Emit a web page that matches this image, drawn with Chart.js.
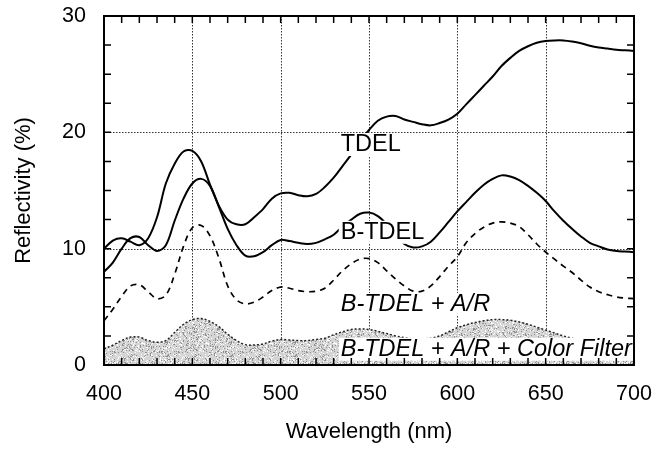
<!DOCTYPE html>
<html>
<head>
<meta charset="utf-8">
<script src="https://cdn.jsdelivr.net/npm/chart.js@4"></script>
<style>
  body { margin: 0; background: #fff; }
  #wrap { width: 657px; height: 454px; }
</style>
</head>
<body>
<div id="wrap"><canvas id="reflChart"></canvas></div>
<script>
// Wavelengths (nm) and reflectivity (%)
const wavelengths = [400, 405, 410, 415, 420, 425, 430, 435, 440, 445, 450, 455, 460, 465, 470, 475, 480, 485, 490, 495,
  500, 505, 510, 515, 520, 525, 530, 535, 540, 545, 550, 555, 560, 565, 570, 575, 580, 585, 590, 595,
  600, 605, 610, 615, 620, 625, 630, 635, 640, 645, 650, 655, 660, 665, 670, 675, 680, 685, 690, 695, 700];

const tdel = [10.0, 10.7, 10.9, 10.6, 10.3, 10.9, 12.7, 15.6, 17.3, 18.35, 18.4, 17.5, 15.5, 13.7, 12.5, 12.1, 12.1, 12.7, 13.4, 14.3,
  14.75, 14.8, 14.6, 14.5, 14.7, 15.3, 16.1, 17.1, 18.1, 19.3, 20.2, 21.0, 21.35, 21.4, 21.1, 20.9, 20.7, 20.6, 20.8, 21.1,
  21.6, 22.4, 23.2, 24.0, 24.8, 25.7, 26.4, 27.0, 27.4, 27.7, 27.85, 27.9, 27.9, 27.8, 27.65, 27.45, 27.3, 27.2, 27.1, 27.05, 27.0];

const bTdel = [8.0, 8.8, 10.0, 10.9, 11.0, 10.3, 9.8, 10.3, 12.4, 14.3, 15.6, 16.0, 15.4, 13.6, 11.7, 10.3, 9.4, 9.35, 9.7, 10.3,
  10.75, 10.65, 10.5, 10.4, 10.5, 10.8, 11.2, 11.9, 12.5, 13.0, 13.1, 12.8, 12.1, 11.2, 10.4, 10.1, 10.2, 10.6, 11.4, 12.3,
  13.2, 14.0, 14.8, 15.5, 16.0, 16.3, 16.2, 15.9, 15.4, 14.8, 14.1, 13.2, 12.4, 11.7, 11.05, 10.5, 10.2, 9.93, 9.8, 9.75, 9.7];

const bTdelAR = [3.8, 4.8, 5.9, 6.8, 6.9, 6.3, 5.7, 6.0, 7.8, 10.2, 11.8, 12.0, 11.1, 9.2, 6.8, 5.6, 5.25, 5.4, 5.85, 6.4,
  6.7, 6.6, 6.4, 6.3, 6.35, 6.6, 7.3, 8.1, 8.7, 9.1, 9.15, 8.8, 8.1, 7.4, 6.8, 6.35, 6.35, 6.8, 7.6, 8.5,
  9.3, 10.5, 11.3, 11.85, 12.2, 12.3, 12.2, 11.9, 11.2, 10.4, 9.7, 9.1, 8.5, 7.95, 7.3, 6.7, 6.3, 6.05, 5.85, 5.75, 5.7];

const bTdelARCF = [1.4, 1.7, 2.1, 2.4, 2.4, 2.1, 1.95, 2.1, 2.8, 3.5, 3.9, 4.0, 3.75, 3.3, 2.65, 2.1, 1.75, 1.72, 1.8, 2.05,
  2.2, 2.15, 2.1, 2.1, 2.2, 2.3, 2.6, 2.85, 3.05, 3.1, 3.05, 2.9, 2.7, 2.5, 2.35, 2.25, 2.25, 2.3, 2.5, 2.85,
  3.2, 3.45, 3.65, 3.8, 3.9, 3.9, 3.85, 3.7, 3.5, 3.25, 3.0, 2.75, 2.5, 2.3, 2.1, 2.0, 1.9, 1.85, 1.8, 1.75, 1.7];

const curveLabels = ['TDEL', 'B-TDEL', 'B-TDEL + A/R', 'B-TDEL + A/R + Color Filter'];

const FONT = "'Liberation Sans', Arial, Helvetica, sans-serif";

const toPoints = (ys) => wavelengths.map((x, i) => ({ x: x, y: ys[i] }));

// stippled grey fill like the scanned figure
function makeStipple() {
    const c = document.createElement('canvas');
    c.width = 64; c.height = 64;
    const g = c.getContext('2d');
    g.fillStyle = '#d4d4d4';
    g.fillRect(0, 0, 64, 64);
    let seed = 7;
    const rnd = () => { seed = (seed * 16807) % 2147483647; return seed / 2147483647; };
    for (let i = 0; i < 1400; i++) {
        g.fillStyle = rnd() < 0.5 ? '#909090' : '#ffffff';
        g.fillRect(Math.floor(rnd() * 64), Math.floor(rnd() * 64), 1, 1);
    }
    return g.createPattern(c, 'repeat');
}

// frame, dotted grid and inward tick marks
const framePlugin = {
    id: 'frame',
    beforeDatasetsDraw(chart) {
        const { ctx, chartArea: a, scales: { x, y } } = chart;
        ctx.save();
        ctx.strokeStyle = '#333';
        ctx.lineWidth = 1;
        ctx.setLineDash([1.5, 1.5]);
        ctx.beginPath();
        [450, 500, 550, 600, 650].forEach(v => {
            const px = Math.round(x.getPixelForValue(v)) + 0.5;
            ctx.moveTo(px, a.top); ctx.lineTo(px, a.bottom);
        });
        [10, 20].forEach(v => {
            const py = Math.round(y.getPixelForValue(v)) + 0.5;
            ctx.moveTo(a.left, py); ctx.lineTo(a.right, py);
        });
        ctx.stroke();
        ctx.restore();
    },
    afterDraw(chart) {
        const { ctx, chartArea: a, scales: { x, y } } = chart;
        ctx.save();
        ctx.strokeStyle = '#000';
        ctx.lineWidth = 1.5;
        ctx.beginPath();
        for (let v = 400; v <= 700; v += 10) {
            const px = x.getPixelForValue(v);
            ctx.moveTo(px, a.bottom); ctx.lineTo(px, a.bottom - 7);
            ctx.moveTo(px, a.top); ctx.lineTo(px, a.top + 7);
        }
        for (let v = 0; v <= 30; v += 2.5) {
            const py = y.getPixelForValue(v);
            ctx.moveTo(a.left, py); ctx.lineTo(a.left + 7, py);
            ctx.moveTo(a.right, py); ctx.lineTo(a.right - 7, py);
        }
        ctx.stroke();
        ctx.lineWidth = 2;
        ctx.strokeRect(a.left, a.top, a.right - a.left, a.bottom - a.top);
        ctx.restore();
    }
};

// curve names written in the plot on white boxes
const labelPlugin = {
    id: 'curveNames',
    afterDatasetsDraw(chart) {
        const { ctx, scales: { x, y } } = chart;
        const spots = [
            { text: curveLabels[0], x: 534, y: 19.0, italic: false },
            { text: curveLabels[1], x: 534, y: 11.45, italic: false },
            { text: curveLabels[2], x: 534, y: 5.25, italic: true },
            { text: curveLabels[3], x: 534, y: 1.4, italic: true }
        ];
        ctx.save();
        ctx.textBaseline = 'middle';
        spots.forEach(s => {
            ctx.font = (s.italic ? 'italic ' : '') + '23.5px ' + FONT;
            const px = x.getPixelForValue(s.x);
            const py = y.getPixelForValue(s.y);
            const w = ctx.measureText(s.text).width;
            ctx.fillStyle = '#fff';
            ctx.fillRect(px - 2, py - 11, w + 4, 23);
            ctx.fillStyle = '#000';
            ctx.fillText(s.text, px, py + 1);
        });
        ctx.restore();
    }
};

const ctx = document.getElementById('reflChart').getContext('2d');

const reflChart = new Chart(ctx, {
    type: 'line',
    data: {
        datasets: [
            {
                label: curveLabels[0],
                data: toPoints(tdel),
                borderColor: '#000',
                borderWidth: 2,
                order: 1,
            },
            {
                label: curveLabels[1],
                data: toPoints(bTdel),
                borderColor: '#000',
                borderWidth: 2,
                order: 2,
            },
            {
                label: curveLabels[2],
                data: toPoints(bTdelAR),
                borderColor: '#000',
                borderWidth: 1.7,
                borderDash: [6, 5],
                order: 3,
            },
            {
                label: curveLabels[3],
                data: toPoints(bTdelARCF),
                borderColor: '#222',
                borderWidth: 1.5,
                borderDash: [2, 2],
                backgroundColor: makeStipple(),
                fill: 'origin',
                order: 4,
            }
        ]
    },
    options: {
        responsive: true,
        maintainAspectRatio: false,
        animation: false,
        layout: {
            padding: { top: 16, right: 23, left: 0, bottom: 0 }
        },
        elements: {
            point: { radius: 0 },
            line: { tension: 0.35 }
        },
        scales: {
            x: {
                type: 'linear',
                min: 400,
                max: 700,
                grid: { display: false },
                border: { display: false },
                ticks: {
                    stepSize: 50,
                    color: '#000',
                    padding: 8,
                    font: { family: FONT, size: 21.5 },
                },
                title: {
                    display: true,
                    text: 'Wavelength (nm)',
                    color: '#000',
                    padding: { top: 0, bottom: 9 },
                    font: { family: FONT, size: 22 },
                },
                afterFit: (s) => {
                    s.height = 89;
                    s.paddingLeft = 0;
                    s.paddingRight = 0;
                },
            },
            y: {
                min: 0,
                max: 30,
                grid: { display: false },
                border: { display: false },
                ticks: {
                    stepSize: 10,
                    color: '#000',
                    padding: 10,
                    font: { family: FONT, size: 21.5 },
                },
                title: {
                    display: true,
                    text: 'Reflectivity (%)',
                    color: '#000',
                    padding: { top: 11, bottom: 0 },
                    font: { family: FONT, size: 22 },
                },
                afterFit: (s) => {
                    s.width = 104;
                    s.paddingTop = 0;
                    s.paddingBottom = 0;
                },
            },
        },
        plugins: {
            legend: { display: false },
            tooltip: { enabled: false },
        },
    },
    plugins: [framePlugin, labelPlugin],
});
</script>
</body>
</html>
